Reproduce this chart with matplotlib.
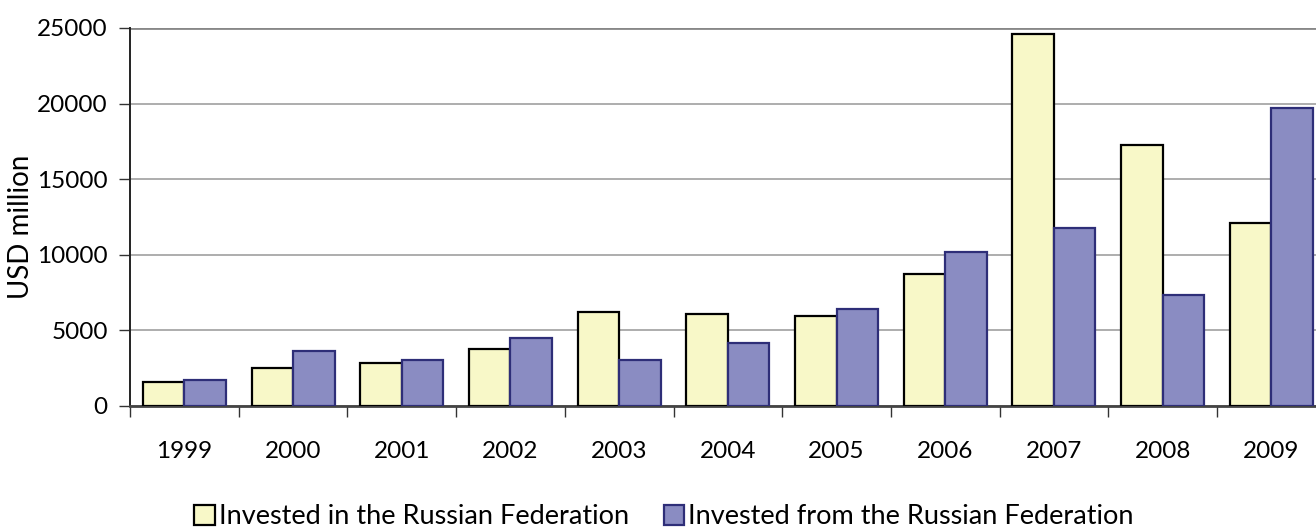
import matplotlib
matplotlib.use("Agg")
import matplotlib.pyplot as plt
import numpy as np

years = ["1999", "2000", "2001", "2002", "2003", "2004", "2005", "2006", "2007", "2008", "2009"]
invested_in = [1570, 2510, 2840, 3770, 6240, 6100, 5970, 8730, 24580, 17240, 12080]
invested_from = [1700, 3640, 3060, 4480, 3060, 4170, 6420, 10190, 11790, 7360, 19730]
series_names = ["Invested in the Russian Federation", "Invested from the Russian Federation"]
y_ticks = [0, 5000, 10000, 15000, 20000, 25000]

plt.rcParams['font.family'] = ['Lato', 'DejaVu Sans']

W, H = 1316, 529
fig = plt.figure(figsize=(W / 100, H / 100), dpi=100)
left = 130 / W
bottom = (H - 406) / H
width = 11 * 108.7 / W
height = (406 - 28) / H
ax = fig.add_axes([left, bottom, width, height])

x = np.arange(len(years))
bw = 0.382
b1 = ax.bar(x - bw / 2, invested_in, width=bw, color="#F8F8C8", edgecolor="#000000", linewidth=1.6, zorder=3,
            label=series_names[0])
b2 = ax.bar(x + bw / 2, invested_from, width=bw, color="#8A8CC2", edgecolor="#2E2E78", linewidth=1.6, zorder=3,
            label=series_names[1])

ax.set_xlim(-0.5, len(years) - 0.5)
ax.set_ylim(0, 25000)
ax.set_yticks(y_ticks)
ax.set_yticklabels([str(v) for v in y_ticks], fontsize=17.5)
ax.set_xticks(np.arange(len(years) + 1) - 0.5)
ax.set_xticklabels([])
ax.set_xticks(x, minor=True)
ax.set_xticklabels(years, minor=True, fontsize=17.5)
ax.tick_params(axis='x', which='major', length=8, width=1, color="#333333", direction='out')
ax.tick_params(axis='x', which='minor', length=0, pad=25)
ax.tick_params(axis='y', which='major', length=8, width=1, color="#333333", direction='out', pad=8)

ax.grid(axis='y', color="#A0A0A0", linewidth=1.2, zorder=0)
ax.set_axisbelow(True)
for s in ['top', 'right']:
    ax.spines[s].set_visible(False)
ax.spines['left'].set_color("#222222")
ax.spines['left'].set_linewidth(1.4)
ax.spines['bottom'].set_color("#444444")
ax.spines['bottom'].set_linewidth(2)
ax.axhline(25000, color="#888888", linewidth=2, zorder=1)

ax.set_ylabel("USD million", fontsize=20)
ax.yaxis.set_label_coords((34 - 130) / (11 * 108.7), (406 - 227) / (406 - 28))

fig.legend(handles=[b1, b2], labels=series_names, loc='center', bbox_to_anchor=(664 / W, 1 - 517 / H),
           ncol=2, frameon=False, fontsize=19.5, handlelength=0.75, handleheight=0.75, handletextpad=0.15,
           columnspacing=1.3)

fig.savefig("out.png", dpi=100)
